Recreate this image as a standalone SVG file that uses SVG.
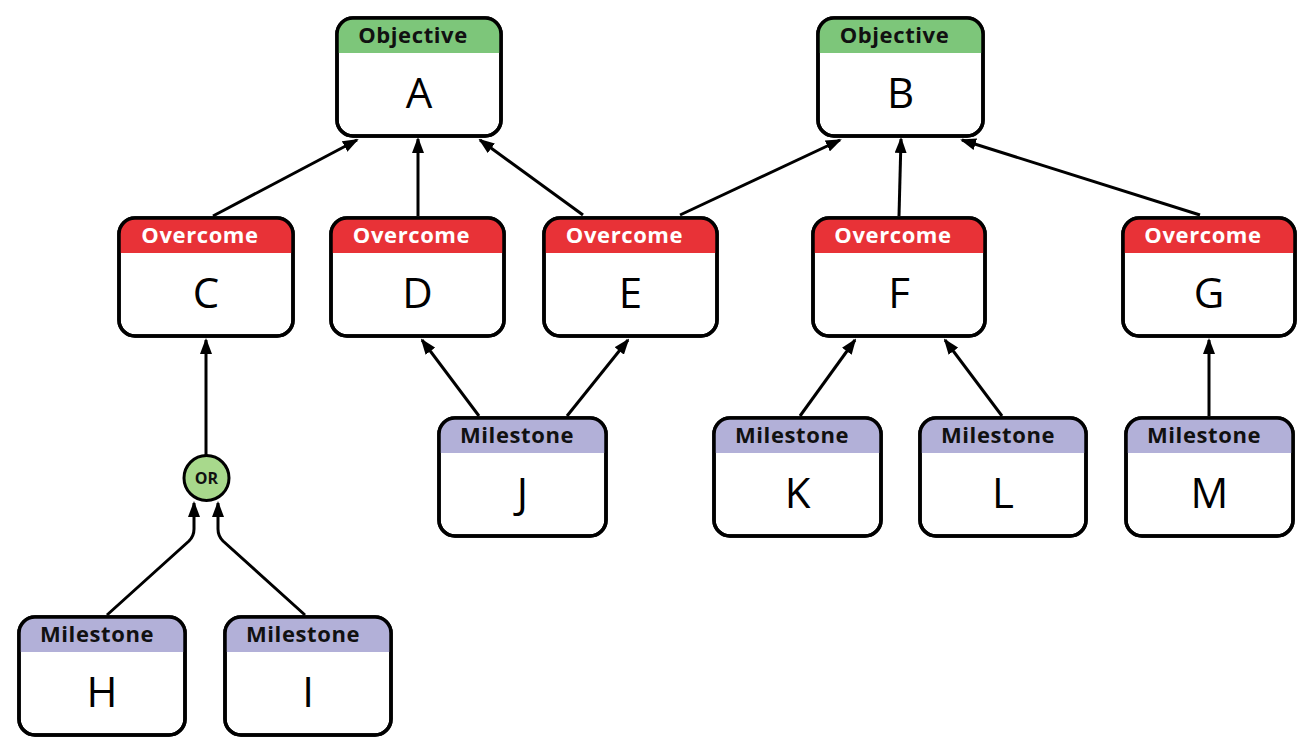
<svg xmlns="http://www.w3.org/2000/svg" width="1315" height="750" viewBox="0 0 1315 750">
<defs>
<style>
.box{fill:#fff;stroke:#000;stroke-width:3.5}
.frame{fill:none;stroke:#000;stroke-width:3.5}
.obj{fill:#7dc67a}
.ovc{fill:#e83237}
.mil{fill:#b2b0d8}
.hd{font-family:"Open Sans","Liberation Sans",sans-serif;font-weight:bold;font-size:22px;text-anchor:middle;letter-spacing:0.6px}
.hdk{fill:#111}
.hdw{fill:#fff}
.big{font-family:"Open Sans","Liberation Sans",sans-serif;font-size:42px;text-anchor:middle;fill:#000}
.ortxt{font-family:"Open Sans","Liberation Sans",sans-serif;font-weight:bold;font-size:16px;text-anchor:middle;fill:#111}
.edge{fill:none;stroke:#000;stroke-width:3;marker-end:url(#arr)}
</style>
<marker id="arr" viewBox="0 0 16 12" refX="14" refY="6" markerWidth="16" markerHeight="12" markerUnits="userSpaceOnUse" orient="auto">
<path d="M0,0 L16,6 L0,12 Z" fill="#000"/>
</marker>
</defs>
<rect width="1315" height="750" fill="#fff"/>
<g id="connectors">
<line class="edge" x1="213" y1="216" x2="357" y2="140"/>
<line class="edge" x1="418" y1="216" x2="418" y2="139"/>
<line class="edge" x1="583" y1="215" x2="480" y2="140"/>
<line class="edge" x1="680" y1="215" x2="840" y2="140"/>
<line class="edge" x1="899" y1="216" x2="901" y2="139"/>
<line class="edge" x1="1200" y1="215" x2="962" y2="140"/>
<line class="edge" x1="206" y1="455" x2="206" y2="340"/>
<line class="edge" x1="479" y1="416" x2="422" y2="340"/>
<line class="edge" x1="567" y1="416" x2="628" y2="340"/>
<line class="edge" x1="800" y1="416" x2="855" y2="340"/>
<line class="edge" x1="1002" y1="416" x2="945" y2="340"/>
<line class="edge" x1="1209" y1="416" x2="1209" y2="340"/>
<path class="edge" d="M107,615 L189,541 Q194,536 194,529 L194,503"/>
<path class="edge" d="M305,615 L223,541 Q218,536 218,529 L218,503"/>
</g>
<g id="node-A">
<rect class="box" x="337" y="18" width="164" height="118" rx="16"/>
<path class="obj" d="M337,53 V34 A16,16 0 0 1 353,18 H485 A16,16 0 0 1 501,34 V53 Z"/>
<rect class="frame" x="337" y="18" width="164" height="118" rx="16"/>
<text class="hd hdk" x="413" y="43">Objective</text>
<text class="big" x="419" y="108">A</text>
</g>
<g id="node-B">
<rect class="box" x="818" y="18" width="165" height="118" rx="16"/>
<path class="obj" d="M818,53 V34 A16,16 0 0 1 834,18 H967 A16,16 0 0 1 983,34 V53 Z"/>
<rect class="frame" x="818" y="18" width="165" height="118" rx="16"/>
<text class="hd hdk" x="894.5" y="43">Objective</text>
<text class="big" x="900.5" y="108">B</text>
</g>
<g id="node-C">
<rect class="box" x="119" y="218" width="174" height="118" rx="16"/>
<path class="ovc" d="M119,253 V234 A16,16 0 0 1 135,218 H277 A16,16 0 0 1 293,234 V253 Z"/>
<rect class="frame" x="119" y="218" width="174" height="118" rx="16"/>
<text class="hd hdw" x="200" y="243">Overcome</text>
<text class="big" x="206" y="308">C</text>
</g>
<g id="node-D">
<rect class="box" x="331" y="218" width="173" height="118" rx="16"/>
<path class="ovc" d="M331,253 V234 A16,16 0 0 1 347,218 H488 A16,16 0 0 1 504,234 V253 Z"/>
<rect class="frame" x="331" y="218" width="173" height="118" rx="16"/>
<text class="hd hdw" x="411.5" y="243">Overcome</text>
<text class="big" x="417.5" y="308">D</text>
</g>
<g id="node-E">
<rect class="box" x="544" y="218" width="173" height="118" rx="16"/>
<path class="ovc" d="M544,253 V234 A16,16 0 0 1 560,218 H701 A16,16 0 0 1 717,234 V253 Z"/>
<rect class="frame" x="544" y="218" width="173" height="118" rx="16"/>
<text class="hd hdw" x="624.5" y="243">Overcome</text>
<text class="big" x="630.5" y="308">E</text>
</g>
<g id="node-F">
<rect class="box" x="813" y="218" width="172" height="118" rx="16"/>
<path class="ovc" d="M813,253 V234 A16,16 0 0 1 829,218 H969 A16,16 0 0 1 985,234 V253 Z"/>
<rect class="frame" x="813" y="218" width="172" height="118" rx="16"/>
<text class="hd hdw" x="893" y="243">Overcome</text>
<text class="big" x="899" y="308">F</text>
</g>
<g id="node-G">
<rect class="box" x="1123" y="218" width="172" height="118" rx="16"/>
<path class="ovc" d="M1123,253 V234 A16,16 0 0 1 1139,218 H1279 A16,16 0 0 1 1295,234 V253 Z"/>
<rect class="frame" x="1123" y="218" width="172" height="118" rx="16"/>
<text class="hd hdw" x="1203" y="243">Overcome</text>
<text class="big" x="1209" y="308">G</text>
</g>
<g id="node-OR">
<circle cx="206.5" cy="478" r="22.5" fill="#a8d98c" stroke="#000" stroke-width="3"/>
<text class="ortxt" x="206.5" y="483.5">OR</text>
</g>
<g id="node-J">
<rect class="box" x="439" y="418" width="167" height="118" rx="16"/>
<path class="mil" d="M439,453 V434 A16,16 0 0 1 455,418 H590 A16,16 0 0 1 606,434 V453 Z"/>
<rect class="frame" x="439" y="418" width="167" height="118" rx="16"/>
<text class="hd hdk" x="517" y="443">Milestone</text>
<text class="big" x="522.5" y="508">J</text>
</g>
<g id="node-K">
<rect class="box" x="714" y="418" width="167" height="118" rx="16"/>
<path class="mil" d="M714,453 V434 A16,16 0 0 1 730,418 H865 A16,16 0 0 1 881,434 V453 Z"/>
<rect class="frame" x="714" y="418" width="167" height="118" rx="16"/>
<text class="hd hdk" x="792" y="443">Milestone</text>
<text class="big" x="797.5" y="508">K</text>
</g>
<g id="node-L">
<rect class="box" x="920" y="418" width="166" height="118" rx="16"/>
<path class="mil" d="M920,453 V434 A16,16 0 0 1 936,418 H1070 A16,16 0 0 1 1086,434 V453 Z"/>
<rect class="frame" x="920" y="418" width="166" height="118" rx="16"/>
<text class="hd hdk" x="998" y="443">Milestone</text>
<text class="big" x="1003" y="508">L</text>
</g>
<g id="node-M">
<rect class="box" x="1126" y="418" width="167" height="118" rx="16"/>
<path class="mil" d="M1126,453 V434 A16,16 0 0 1 1142,418 H1277 A16,16 0 0 1 1293,434 V453 Z"/>
<rect class="frame" x="1126" y="418" width="167" height="118" rx="16"/>
<text class="hd hdk" x="1204" y="443">Milestone</text>
<text class="big" x="1209.5" y="508">M</text>
</g>
<g id="node-H">
<rect class="box" x="19" y="617" width="166" height="118" rx="16"/>
<path class="mil" d="M19,652 V633 A16,16 0 0 1 35,617 H169 A16,16 0 0 1 185,633 V652 Z"/>
<rect class="frame" x="19" y="617" width="166" height="118" rx="16"/>
<text class="hd hdk" x="97" y="642">Milestone</text>
<text class="big" x="102" y="707">H</text>
</g>
<g id="node-I">
<rect class="box" x="225" y="617" width="166" height="118" rx="16"/>
<path class="mil" d="M225,652 V633 A16,16 0 0 1 241,617 H375 A16,16 0 0 1 391,633 V652 Z"/>
<rect class="frame" x="225" y="617" width="166" height="118" rx="16"/>
<text class="hd hdk" x="303" y="642">Milestone</text>
<text class="big" x="308" y="707">I</text>
</g>
</svg>
